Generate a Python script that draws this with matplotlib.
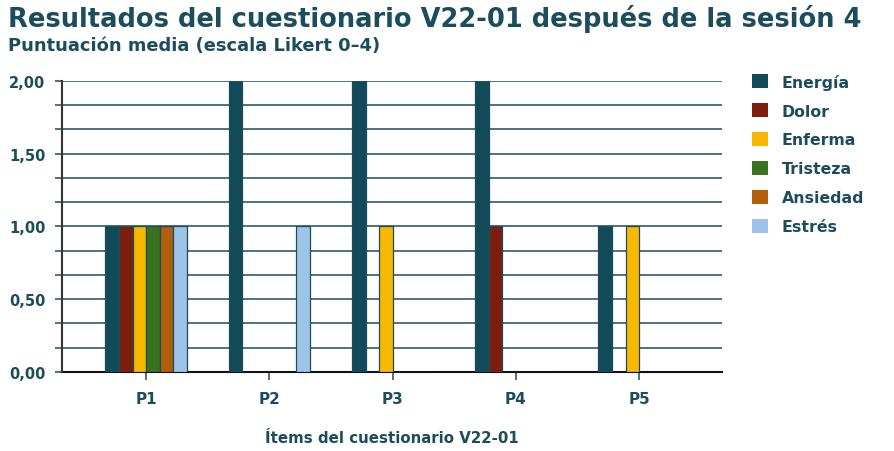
import matplotlib
matplotlib.use('Agg')
import matplotlib.pyplot as plt
from matplotlib.patches import Patch
from matplotlib.ticker import MultipleLocator, FuncFormatter
import numpy as np

# data
items = ['P1', 'P2', 'P3', 'P4', 'P5']
series = ['Energía', 'Dolor', 'Enferma', 'Tristeza', 'Ansiedad', 'Estrés']
energia = [1, 2, 2, 2, 1]
dolor = [1, 0, 0, 1, 0]
enferma = [1, 0, 1, 0, 1]
tristeza = [1, 0, 0, 0, 0]
ansiedad = [1, 0, 0, 0, 0]
estres = [1, 1, 0, 0, 0]
values = [energia, dolor, enferma, tristeza, ansiedad, estres]
colors = ['#124a5a', '#7e1d0d', '#f9b800', '#3a7320', '#b35e09', '#9dc3e6']

teal = '#1b4d5d'
plt.rcParams['font.family'] = ['DejaVu Sans']

fig = plt.figure(figsize=(8.94, 4.52), dpi=100)
ax = fig.add_axes([0.0694, 0.1748, 0.7383, 0.6438])

x = np.arange(len(items))
w = 0.11
for i, (name, vals, c) in enumerate(zip(series, values, colors)):
    ax.bar(x + (i - 2.5) * w, vals, w, color=c, edgecolor=teal,
           linewidth=0.9, label=name, zorder=3)

ax.set_xlim(-0.682, 4.673)
ax.set_ylim(0, 2.0)

# grid every 1/6, labels every 0.5
ax.yaxis.set_major_locator(MultipleLocator(0.5))
ax.yaxis.set_minor_locator(MultipleLocator(1 / 6))
ax.yaxis.set_major_formatter(FuncFormatter(lambda v, p: f'{v:.2f}'.replace('.', ',')))
ax.grid(axis='y', which='both', color=teal, linewidth=1.1, zorder=0)
ax.tick_params(axis='y', which='both', length=5, color=teal, width=1.1,
               labelsize=10.5, labelcolor=teal, pad=7)
for lab in ax.get_yticklabels():
    lab.set_fontweight('bold')

ax.set_xticks(x)
ax.set_xticklabels(items, fontsize=11, fontweight='bold', color=teal)
ax.tick_params(axis='x', length=6, color=teal, width=1.1, pad=8)

for s in ['top', 'right']:
    ax.spines[s].set_visible(False)
ax.spines['left'].set_color('#333333')
ax.spines['left'].set_linewidth(1.5)
ax.spines['bottom'].set_color('#111111')
ax.spines['bottom'].set_linewidth(1.5)
ax.spines['bottom'].set_zorder(2)

ax.set_xlabel('Ítems del cuestionario V22-01', fontsize=10.8, fontweight='bold',
              color=teal, labelpad=17)

fig.text(0.009, 0.958, 'Resultados del cuestionario V22-01 después de la sesión 4',
         fontsize=18.5, fontweight='bold', color=teal, va='center')
fig.text(0.009, 0.898, 'Puntuación media (escala Likert 0–4)',
         fontsize=12.9, fontweight='bold', color=teal, va='center')

handles = [Patch(facecolor=c, edgecolor='none') for c in colors]
leg = fig.legend(handles, series, loc='upper left', bbox_to_anchor=(0.8255, 0.8660),
                 frameon=False, handlelength=1.0, handleheight=1.0,
                 handletextpad=0.9, labelspacing=0.86,
                 prop={'size': 11.3, 'weight': 'bold'})
for t in leg.get_texts():
    t.set_color(teal)

fig.savefig('out.png', dpi=100)
